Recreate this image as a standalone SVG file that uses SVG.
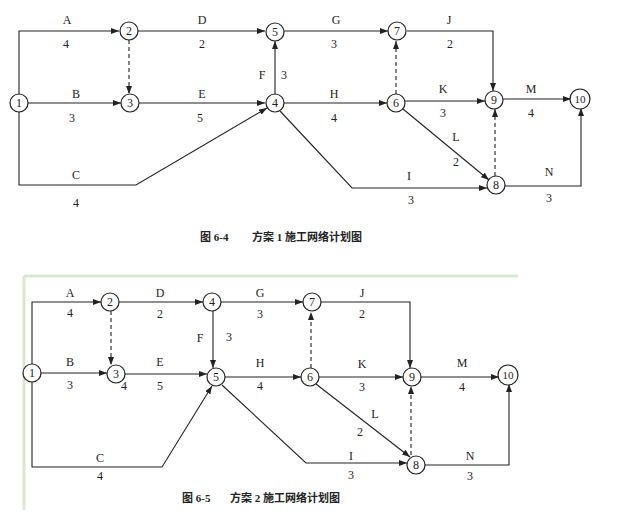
<svg xmlns="http://www.w3.org/2000/svg" width="622" height="521" viewBox="0 0 622 521">
<defs><marker id="ar" markerWidth="8" markerHeight="6" refX="8" refY="3" orient="auto" markerUnits="userSpaceOnUse"><path d="M0,0 L8,3 L0,6 z" fill="#222"/></marker></defs>
<style>
.n circle{fill:#fff;stroke:#222;stroke-width:1.2}
.n text,.l{font-family:"Liberation Serif",serif;font-size:12px;fill:#222;text-anchor:middle}
.n text{dominant-baseline:central}
.c path{fill:none;stroke:#222;stroke-width:1.1;marker-end:url(#ar)}
.c .d{stroke-dasharray:4 3}
.cap{font-family:"Liberation Serif","Noto Sans CJK SC",serif;font-size:11px;fill:#222;font-weight:bold}
</style>
<rect width="622" height="521" fill="#fff"/>
<g id="connectors1" class="c">
<path d="M19,94 V31 H119"/>
<path d="M138,31 H265"/>
<path d="M284,31 H388"/>
<path d="M28,103 H121"/>
<path d="M139,103 H265"/>
<path d="M129,40 V94" class="d"/>
<path d="M275,94 V41"/>
<path d="M284,103 H387"/>
<path d="M396,94 V41" class="d"/>
<path d="M407,31 H493 V91"/>
<path d="M405,101 H485"/>
<path d="M503,99 H571"/>
<path d="M19,112 V185 H136 L267,108"/>
<path d="M280,111 L352,188 H487"/>
<path d="M403,109 L489,180"/>
<path d="M495,176 V109" class="d"/>
<path d="M505,186 H581 V108"/>
</g>
<g id="n1-1" class="n"><circle cx="19" cy="103" r="9"/><text x="19" y="103">1</text></g>
<g id="n1-2" class="n"><circle cx="129" cy="31" r="9"/><text x="129" y="31">2</text></g>
<g id="n1-3" class="n"><circle cx="130" cy="103" r="9"/><text x="130" y="103">3</text></g>
<g id="n1-4" class="n"><circle cx="275" cy="103" r="9"/><text x="275" y="103">4</text></g>
<g id="n1-5" class="n"><circle cx="275" cy="32" r="9"/><text x="275" y="32">5</text></g>
<g id="n1-6" class="n"><circle cx="396" cy="103" r="9"/><text x="396" y="103">6</text></g>
<g id="n1-7" class="n"><circle cx="397" cy="31" r="9"/><text x="397" y="31">7</text></g>
<g id="n1-8" class="n"><circle cx="496" cy="185" r="9"/><text x="496" y="185">8</text></g>
<g id="n1-9" class="n"><circle cx="494" cy="100" r="9"/><text x="494" y="100">9</text></g>
<g id="n1-10" class="n"><circle cx="580" cy="99" r="10"/><text x="580" y="99" style="font-size:11px">10</text></g>
<g id="labels1">
<text class="l" x="67" y="24">A</text><text class="l" x="66" y="48">4</text>
<text class="l" x="202" y="24">D</text><text class="l" x="202" y="48">2</text>
<text class="l" x="336" y="24">G</text><text class="l" x="334" y="48">3</text>
<text class="l" x="449" y="24">J</text><text class="l" x="450" y="48">2</text>
<text class="l" x="262" y="79">F</text><text class="l" x="284" y="79">3</text>
<text class="l" x="76" y="98">B</text><text class="l" x="72" y="122">3</text>
<text class="l" x="202" y="98">E</text><text class="l" x="200" y="122">5</text>
<text class="l" x="334" y="98">H</text><text class="l" x="334" y="122">4</text>
<text class="l" x="443" y="93">K</text><text class="l" x="443" y="117">3</text>
<text class="l" x="531" y="93">M</text><text class="l" x="531" y="117">4</text>
<text class="l" x="456" y="141">L</text><text class="l" x="456" y="166">2</text>
<text class="l" x="76" y="179">C</text><text class="l" x="76" y="207">4</text>
<text class="l" x="409" y="180">I</text><text class="l" x="411" y="204">3</text>
<text class="l" x="549" y="176">N</text><text class="l" x="549" y="202">3</text>
<text class="cap" x="200" y="241">图 6-4</text><text class="cap" x="252" y="241">方案 1 施工网络计划图</text>
</g>
<path d="M24,276 H518 M24,276 V510" stroke="#d5e9cf" stroke-width="3" fill="none"/>
<g id="connectors2" class="c">
<path d="M32,364 V302 H101"/>
<path d="M119,302 H203"/>
<path d="M221,302 H303"/>
<path d="M41,373 H107"/>
<path d="M125,374 H207"/>
<path d="M111,311 V365" class="d"/>
<path d="M213,311 V368"/>
<path d="M225,377 H301"/>
<path d="M311,368 V312" class="d"/>
<path d="M321,302 H410 V368"/>
<path d="M319,377 H403"/>
<path d="M421,377 H499"/>
<path d="M32,382 V467 H162 L212,386"/>
<path d="M222,385 L306,463 H407"/>
<path d="M316,384 L410,457"/>
<path d="M411,455 V386" class="d"/>
<path d="M425,465 H509 V384"/>
</g>
<g id="n2-1" class="n"><circle cx="32" cy="373" r="9"/><text x="32" y="373">1</text></g>
<g id="n2-2" class="n"><circle cx="110" cy="302" r="9"/><text x="110" y="302">2</text></g>
<g id="n2-3" class="n"><circle cx="116" cy="374" r="9"/><text x="116" y="374">3</text></g>
<g id="n2-4" class="n"><circle cx="212" cy="302" r="9"/><text x="212" y="302">4</text></g>
<g id="n2-5" class="n"><circle cx="216" cy="377" r="9"/><text x="216" y="377">5</text></g>
<g id="n2-6" class="n"><circle cx="310" cy="377" r="9"/><text x="310" y="377">6</text></g>
<g id="n2-7" class="n"><circle cx="312" cy="302" r="9"/><text x="312" y="302">7</text></g>
<g id="n2-8" class="n"><circle cx="416" cy="465" r="9"/><text x="416" y="465">8</text></g>
<g id="n2-9" class="n"><circle cx="412" cy="377" r="9"/><text x="412" y="377">9</text></g>
<g id="n2-10" class="n"><circle cx="508" cy="375" r="10"/><text x="508" y="375" style="font-size:11px">10</text></g>
<g id="labels2">
<text class="l" x="70" y="297">A</text><text class="l" x="70" y="317">4</text>
<text class="l" x="160" y="297">D</text><text class="l" x="160" y="318">2</text>
<text class="l" x="260" y="297">G</text><text class="l" x="260" y="318">3</text>
<text class="l" x="362" y="297">J</text><text class="l" x="362" y="318">2</text>
<text class="l" x="200" y="342">F</text><text class="l" x="229" y="341">3</text>
<text class="l" x="70" y="366">B</text><text class="l" x="70" y="389">3</text>
<text class="l" x="124" y="390">4</text>
<text class="l" x="160" y="366">E</text><text class="l" x="160" y="390">5</text>
<text class="l" x="260" y="367">H</text><text class="l" x="260" y="390">4</text>
<text class="l" x="362" y="368">K</text><text class="l" x="362" y="391">3</text>
<text class="l" x="462" y="367">M</text><text class="l" x="462" y="391">4</text>
<text class="l" x="375" y="418">L</text><text class="l" x="360" y="436">2</text>
<text class="l" x="100" y="462">C</text><text class="l" x="100" y="480">4</text>
<text class="l" x="351" y="460">I</text><text class="l" x="351" y="479">3</text>
<text class="l" x="470" y="460">N</text><text class="l" x="470" y="480">3</text>
<text class="cap" x="182" y="502">图 6-5</text><text class="cap" x="230" y="502">方案 2 施工网络计划图</text>
</g>
</svg>
